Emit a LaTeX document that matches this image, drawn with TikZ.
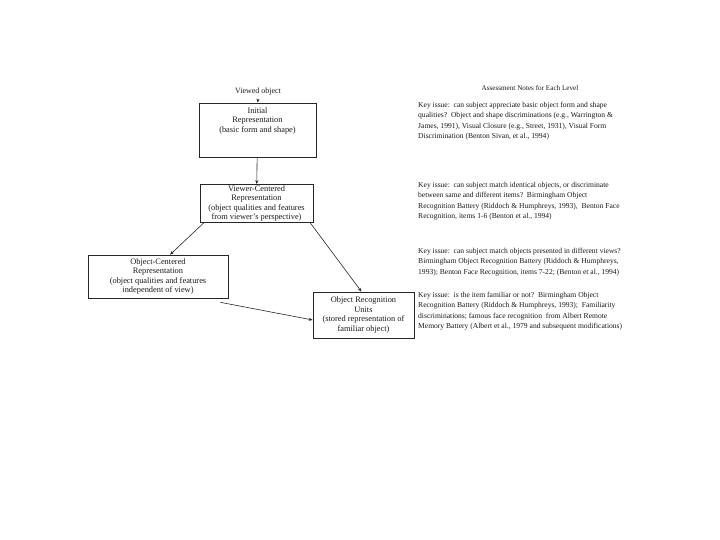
\documentclass[tikz,border=0pt]{standalone}
\usepackage{fontspec}
\setmainfont{Liberation Serif}
\usetikzlibrary{calc,arrows.meta}
\begin{document}
\begin{tikzpicture}[x=1bp,y=-1bp,
  box/.style={draw=black!85, line width=0.6bp, align=center, inner sep=1bp,
    font=\fontsize{8.4}{9.6}\selectfont},
  note/.style={anchor=north west, align=left, inner sep=0pt,
    font=\fontsize{7.6}{10.4}\selectfont},
  conn/.style={draw=black!85, line width=0.6bp, -{Stealth[length=4bp,width=3bp]}},
  every node/.style={text=black!90}]
\useasboundingbox (0,0) rectangle (720,540);
% left flow
\node[font=\fontsize{8}{9}\selectfont] (v) at (258,92) {Viewed object};
\node[box, minimum width=117bp, minimum height=54bp] (b1) at (257.5,130)
  {Initial\\ Representation\\ (basic form and shape)\\[11bp]\mbox{}};
\node[box, minimum width=113bp, minimum height=38bp] (b2) at (256.5,203.5)
  {Viewer-Centered\\ Representation\\ (object qualities and features\\ from viewer's perspective)};
\node[box, minimum width=140bp, minimum height=43bp] (b3) at (158,276.5)
  {Object-Centered\\ Representation\\ (object qualities and features\\ independent of view)};
\node[box, minimum width=101bp, minimum height=46bp] (b4) at (363.5,315)
  {Object Recognition\\ Units\\ (stored representation of\\ familiar object)};
\coordinate (c3) at ($(b3.south east)+(-8,4)$);
\draw[conn] (v) -- (b1);
\draw[conn] (b1) -- (b2);
\draw[conn] ($(b2.south west)+(4,0)$) -- ($(b3.north)+(12,0)$);
\draw[conn] ($(b2.south east)+(-3,0)$) -- ($(b4.north)+(-2,0)$);
\draw[conn] (c3) -- ($(b4.west)+(0,5)$);
% right column
\node[font=\fontsize{7.2}{9}\selectfont] (h) at (530,88) {Assessment Notes for Each Level};
\node[note] (n1) at (418,102) {Key issue:\ \ can subject appreciate basic object form and shape\\
qualities?\ \ Object and shape discriminations (e.g., Warrington \&\\
James, 1991), Visual Closure (e.g., Street, 1931), Visual Form\\
Discrimination (Benton Sivan, et al., 1994)};
\node[note] (n2) at (418,182) {Key issue:\ \ can subject match identical objects, or discriminate\\
between same and different items?\ \ Birmingham Object\\
Recognition Battery (Riddoch \& Humphreys, 1993),\ \ Benton Face\\
Recognition, items 1-6 (Benton et al., 1994)};
\node[note] (n3) at (418,248) {Key issue:\ \ can subject match objects presented in different views?\\
Birmingham Object Recognition Battery (Riddoch \& Humphreys,\\
1993); Benton Face Recognition, items 7-22; (Benton et al., 1994)};
\node[note] (n4) at (418,292) {Key issue:\ \ is the item familiar or not?\ \ Birmingham Object\\
Recognition Battery (Riddoch \& Humphreys, 1993);\ \ Familiarity\\
discriminations; famous face recognition\ \ from Albert Remote\\
Memory Battery (Albert et al., 1979 and subsequent modifications)};
\end{tikzpicture}
\end{document}
